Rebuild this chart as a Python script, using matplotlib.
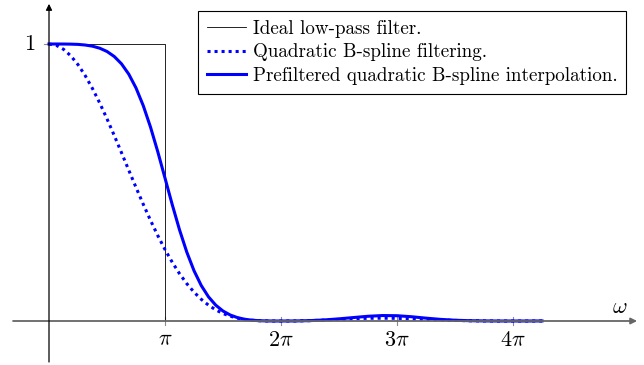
import numpy as np
import matplotlib.pyplot as plt

plt.rcParams['mathtext.fontset'] = 'cm'
plt.rcParams['font.family'] = 'cmr10'
plt.rcParams['axes.formatter.use_mathtext'] = True

# frequency in units of pi: steps of pi/16 up to 2pi, then pi/8
omega = np.concatenate([np.arange(33) / 16.0, np.arange(17, 35) / 8.0])
bspline = [1.0000, 0.9952, 0.9809, 0.9574, 0.9254, 0.8856, 0.8390, 0.7867,
           0.7298, 0.6696, 0.6075, 0.5446, 0.4823, 0.4215, 0.3634, 0.3086,
           0.2580, 0.2120, 0.1710, 0.1350, 0.1042, 0.0783, 0.0571, 0.0401,
           0.0270, 0.0173, 0.0103, 0.0056, 0.0027, 0.0011, 0.0003, 0.0000,
           0.0000,
           0.0002, 0.0013, 0.0033, 0.0058, 0.0082, 0.0098, 0.0102, 0.0096,
           0.0080, 0.0059, 0.0039, 0.0021, 0.0009, 0.0003, 0.0000, 0.0000,
           0.0000, 0.0002]
prefiltered = [1.0000, 1.0000, 0.9999, 0.9995, 0.9986, 0.9963, 0.9921, 0.9848,
               0.9730, 0.9549, 0.9284, 0.8912, 0.8414, 0.7775, 0.7001, 0.6114,
               0.5160, 0.4200, 0.3294, 0.2491, 0.1817, 0.1281, 0.0872, 0.0572,
               0.0360, 0.0216, 0.0122, 0.0063, 0.0029, 0.0011, 0.0003, 0.0000,
               0.0000,
               0.0002, 0.0014, 0.0039, 0.0078, 0.0125, 0.0171, 0.0197, 0.0191,
               0.0154, 0.0103, 0.0059, 0.0028, 0.0011, 0.0003, 0.0000, 0.0000,
               0.0000, 0.0002]
ideal_x = [0, 1, 1]
ideal_y = [1, 1, 0]
tick_pos = [1, 2, 3, 4]
tick_labels = [r'$\pi$', r'$2\pi$', r'$3\pi$', r'$4\pi$']

fig = plt.figure(figsize=(6.44, 3.65), dpi=100)
ax = fig.add_axes([0, 0, 1, 1])
ax.set_xlim(-49 / 116, 595 / 116)
ax.set_ylim(-44 / 277, 321 / 277)
ax.axis('off')

# axes with arrows
ax.annotate('', xy=(5.07, 0), xytext=(-0.31, 0),
            arrowprops=dict(arrowstyle='-|>', color='0.4', lw=1.3,
                            mutation_scale=9, shrinkA=0, shrinkB=0))
ax.annotate('', xy=(0, 1.145), xytext=(0, -0.148),
            arrowprops=dict(arrowstyle='-|>', color='black', lw=0.9,
                            mutation_scale=9, shrinkA=0, shrinkB=0))

# ticks
for p, lab in zip(tick_pos, tick_labels):
    ax.plot([p, p], [-0.013, 0.013], color='0.55', lw=0.8)
    ax.text(p, -0.068, lab, ha='center', va='center', fontsize=16)
ax.plot([-0.04, 0.0], [1, 1], color='0.55', lw=0.8)
ax.text(-0.164, 1.0, r'$1$', ha='center', va='center', fontsize=16)
ax.text(4.922, 0.05, r'$\omega$', ha='center', va='center', fontsize=16)

ax.plot(ideal_x, ideal_y, color='black', lw=0.6,
        label='Ideal low-pass filter.')
ax.plot(omega, bspline, color='blue', lw=2.2, linestyle=(0, (1, 1.3)),
        label='Quadratic B-spline filtering.')
ax.plot(omega, prefiltered, color='blue', lw=2.2, solid_joinstyle='round',
        label='Prefiltered quadratic B-spline interpolation.')

leg = ax.legend(loc='upper right', bbox_to_anchor=(626 / 644, 1 - 11 / 365),
                bbox_transform=fig.transFigure, borderaxespad=0,
                fancybox=False, edgecolor='black', fontsize=13.7,
                handlelength=2.05, handletextpad=0.37, labelspacing=0.3,
                borderpad=0.45, framealpha=1)
leg.get_frame().set_linewidth(0.8)

fig.savefig('out.png', dpi=100)
